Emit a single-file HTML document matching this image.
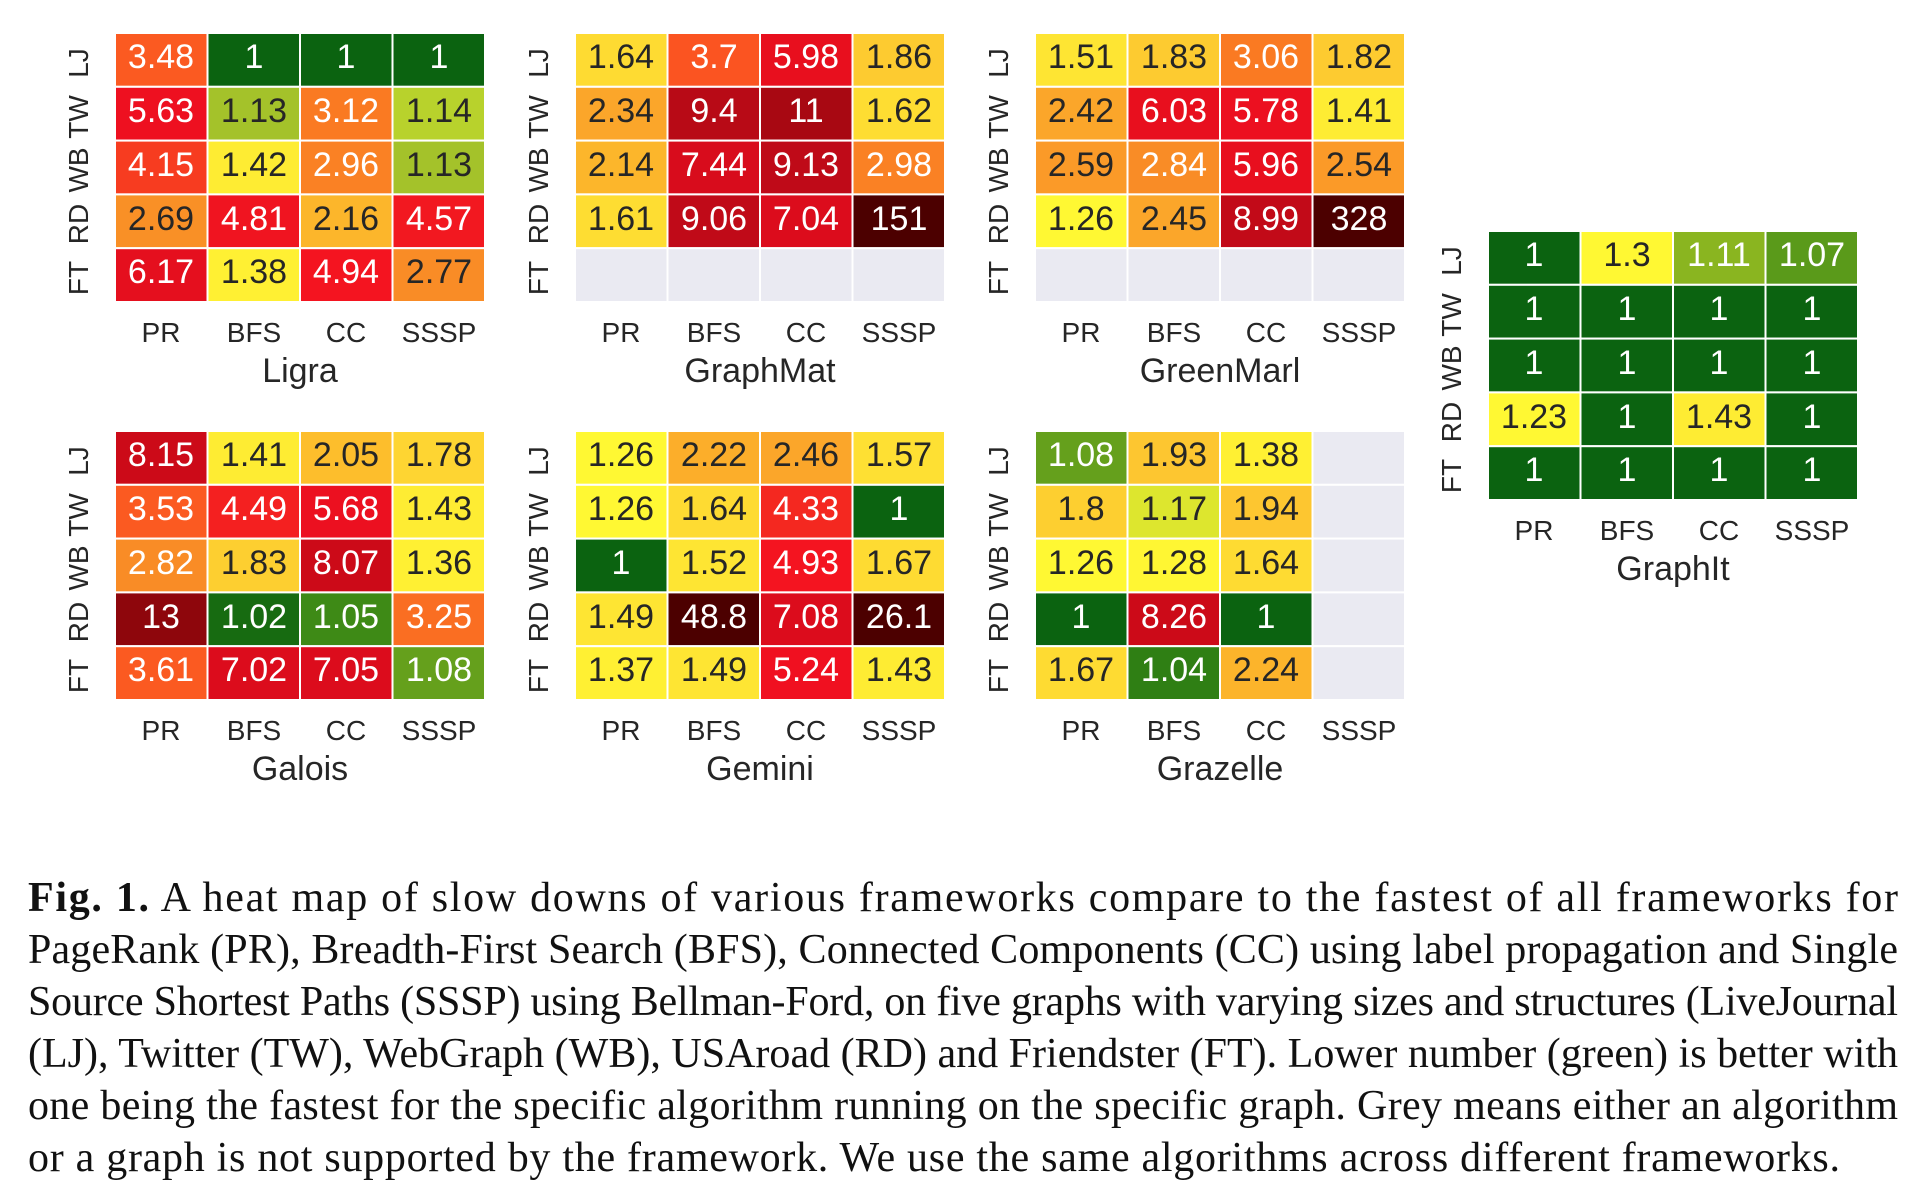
<!DOCTYPE html>
<html><head><meta charset="utf-8"><style>
html,body{margin:0;padding:0;background:#fff;}
svg{display:block;}
.c text{font-family:"Liberation Sans",Arial,sans-serif;font-size:34px;text-anchor:middle;}
.w{fill:#fff}.k{fill:#262626}
.lab{font-family:"Liberation Sans",Arial,sans-serif;font-size:28px;fill:#262626;text-anchor:middle;}
.ttl{font-family:"Liberation Sans",Arial,sans-serif;font-size:29px;fill:#262626;text-anchor:middle;}
rect{stroke:#fff;stroke-width:2;}
.cap{font-family:"Liberation Serif",serif;font-size:42px;fill:#111;}
</style></head><body>
<svg width="1912" height="1186" viewBox="0 0 1912 1186" xmlns="http://www.w3.org/2000/svg">
<defs>
<g id="axes">
<text class="lab" transform="translate(-27,30) rotate(-90)">LJ</text>
<text class="lab" transform="translate(-27,84) rotate(-90)">TW</text>
<text class="lab" transform="translate(-27,137) rotate(-90)">WB</text>
<text class="lab" transform="translate(-27,191) rotate(-90)">RD</text>
<text class="lab" transform="translate(-27,245) rotate(-90)">FT</text>
<text class="lab" x="46" y="309">PR</text>
<text class="lab" x="139" y="309">BFS</text>
<text class="lab" x="231" y="309">CC</text>
<text class="lab" x="324" y="309">SSSP</text>
</g>
</defs>

<!-- Ligra -->
<g class="c" transform="translate(115,33)">
<use href="#axes"/><text class="ttl" x="185" y="349">Ligra</text>
<rect x="0" y="0" width="92.5" height="53.8" fill="#fb5a21"/><text class="w" x="46" y="35">3.48</text>
<rect x="92.5" y="0" width="92.5" height="53.8" fill="#0b6310"/><text class="w" x="139" y="35">1</text>
<rect x="185" y="0" width="92.5" height="53.8" fill="#0b6310"/><text class="w" x="231" y="35">1</text>
<rect x="277.5" y="0" width="92.5" height="53.8" fill="#0b6310"/><text class="w" x="324" y="35">1</text>
<rect x="0" y="53.8" width="92.5" height="53.8" fill="#ee1020"/><text class="w" x="46" y="89">5.63</text>
<rect x="92.5" y="53.8" width="92.5" height="53.8" fill="#a4c22a"/><text class="k" x="139" y="89">1.13</text>
<rect x="185" y="53.8" width="92.5" height="53.8" fill="#fa7a22"/><text class="w" x="231" y="89">3.12</text>
<rect x="277.5" y="53.8" width="92.5" height="53.8" fill="#b8d22c"/><text class="k" x="324" y="89">1.14</text>
<rect x="0" y="107.6" width="92.5" height="53.8" fill="#f73c20"/><text class="w" x="46" y="143">4.15</text>
<rect x="92.5" y="107.6" width="92.5" height="53.8" fill="#feec33"/><text class="k" x="139" y="143">1.42</text>
<rect x="185" y="107.6" width="92.5" height="53.8" fill="#fa8124"/><text class="w" x="231" y="143">2.96</text>
<rect x="277.5" y="107.6" width="92.5" height="53.8" fill="#a4c22a"/><text class="k" x="324" y="143">1.13</text>
<rect x="0" y="161.4" width="92.5" height="53.8" fill="#f99026"/><text class="k" x="46" y="197">2.69</text>
<rect x="92.5" y="161.4" width="92.5" height="53.8" fill="#f01420"/><text class="w" x="139" y="197">4.81</text>
<rect x="185" y="161.4" width="92.5" height="53.8" fill="#fcb62b"/><text class="k" x="231" y="197">2.16</text>
<rect x="277.5" y="161.4" width="92.5" height="53.8" fill="#f21820"/><text class="w" x="324" y="197">4.57</text>
<rect x="0" y="215.2" width="92.5" height="53.8" fill="#e50f1e"/><text class="w" x="46" y="250">6.17</text>
<rect x="92.5" y="215.2" width="92.5" height="53.8" fill="#fff033"/><text class="k" x="139" y="250">1.38</text>
<rect x="185" y="215.2" width="92.5" height="53.8" fill="#f41420"/><text class="w" x="231" y="250">4.94</text>
<rect x="277.5" y="215.2" width="92.5" height="53.8" fill="#f98c26"/><text class="k" x="324" y="250">2.77</text>
</g>

<!-- GraphMat -->
<g class="c" transform="translate(575,33)">
<use href="#axes"/><text class="ttl" x="185" y="349">GraphMat</text>
<rect x="0" y="0" width="92.5" height="53.8" fill="#fedb32"/><text class="k" x="46" y="35">1.64</text>
<rect x="92.5" y="0" width="92.5" height="53.8" fill="#fb5421"/><text class="w" x="139" y="35">3.7</text>
<rect x="185" y="0" width="92.5" height="53.8" fill="#e80f1e"/><text class="w" x="231" y="35">5.98</text>
<rect x="277.5" y="0" width="92.5" height="53.8" fill="#fdcb30"/><text class="k" x="324" y="35">1.86</text>
<rect x="0" y="53.8" width="92.5" height="53.8" fill="#fba62a"/><text class="k" x="46" y="89">2.34</text>
<rect x="92.5" y="53.8" width="92.5" height="53.8" fill="#b80a16"/><text class="w" x="139" y="89">9.4</text>
<rect x="185" y="53.8" width="92.5" height="53.8" fill="#a80812"/><text class="w" x="231" y="89">11</text>
<rect x="277.5" y="53.8" width="92.5" height="53.8" fill="#fedd32"/><text class="k" x="324" y="89">1.62</text>
<rect x="0" y="107.6" width="92.5" height="53.8" fill="#fcb62b"/><text class="k" x="46" y="143">2.14</text>
<rect x="92.5" y="107.6" width="92.5" height="53.8" fill="#d80c1c"/><text class="w" x="139" y="143">7.44</text>
<rect x="185" y="107.6" width="92.5" height="53.8" fill="#bf0a18"/><text class="w" x="231" y="143">9.13</text>
<rect x="277.5" y="107.6" width="92.5" height="53.8" fill="#fa8124"/><text class="w" x="324" y="143">2.98</text>
<rect x="0" y="161.4" width="92.5" height="53.8" fill="#fedd32"/><text class="k" x="46" y="197">1.61</text>
<rect x="92.5" y="161.4" width="92.5" height="53.8" fill="#c00a18"/><text class="w" x="139" y="197">9.06</text>
<rect x="185" y="161.4" width="92.5" height="53.8" fill="#dc0c1c"/><text class="w" x="231" y="197">7.04</text>
<rect x="277.5" y="161.4" width="92.5" height="53.8" fill="#4c0000"/><text class="w" x="324" y="197">151</text>
<rect x="0" y="215.2" width="92.5" height="53.8" fill="#eaeaf2"/>
<rect x="92.5" y="215.2" width="92.5" height="53.8" fill="#eaeaf2"/>
<rect x="185" y="215.2" width="92.5" height="53.8" fill="#eaeaf2"/>
<rect x="277.5" y="215.2" width="92.5" height="53.8" fill="#eaeaf2"/>
</g>

<!-- GreenMarl -->
<g class="c" transform="translate(1035,33)">
<use href="#axes"/><text class="ttl" x="185" y="349">GreenMarl</text>
<rect x="0" y="0" width="92.5" height="53.8" fill="#fee533"/><text class="k" x="46" y="35">1.51</text>
<rect x="92.5" y="0" width="92.5" height="53.8" fill="#fdcb30"/><text class="k" x="139" y="35">1.83</text>
<rect x="185" y="0" width="92.5" height="53.8" fill="#fa7a22"/><text class="w" x="231" y="35">3.06</text>
<rect x="277.5" y="0" width="92.5" height="53.8" fill="#fdcb30"/><text class="k" x="324" y="35">1.82</text>
<rect x="0" y="53.8" width="92.5" height="53.8" fill="#fba62a"/><text class="k" x="46" y="89">2.42</text>
<rect x="92.5" y="53.8" width="92.5" height="53.8" fill="#e80f1e"/><text class="w" x="139" y="89">6.03</text>
<rect x="185" y="53.8" width="92.5" height="53.8" fill="#ec1020"/><text class="w" x="231" y="89">5.78</text>
<rect x="277.5" y="53.8" width="92.5" height="53.8" fill="#feec33"/><text class="k" x="324" y="89">1.41</text>
<rect x="0" y="107.6" width="92.5" height="53.8" fill="#fb9a28"/><text class="k" x="46" y="143">2.59</text>
<rect x="92.5" y="107.6" width="92.5" height="53.8" fill="#f98c26"/><text class="w" x="139" y="143">2.84</text>
<rect x="185" y="107.6" width="92.5" height="53.8" fill="#e80f1e"/><text class="w" x="231" y="143">5.96</text>
<rect x="277.5" y="107.6" width="92.5" height="53.8" fill="#fb9a28"/><text class="k" x="324" y="143">2.54</text>
<rect x="0" y="161.4" width="92.5" height="53.8" fill="#fff833"/><text class="k" x="46" y="197">1.26</text>
<rect x="92.5" y="161.4" width="92.5" height="53.8" fill="#fba62a"/><text class="k" x="139" y="197">2.45</text>
<rect x="185" y="161.4" width="92.5" height="53.8" fill="#c20a18"/><text class="w" x="231" y="197">8.99</text>
<rect x="277.5" y="161.4" width="92.5" height="53.8" fill="#4c0000"/><text class="w" x="324" y="197">328</text>
<rect x="0" y="215.2" width="92.5" height="53.8" fill="#eaeaf2"/>
<rect x="92.5" y="215.2" width="92.5" height="53.8" fill="#eaeaf2"/>
<rect x="185" y="215.2" width="92.5" height="53.8" fill="#eaeaf2"/>
<rect x="277.5" y="215.2" width="92.5" height="53.8" fill="#eaeaf2"/>
</g>

<!-- GraphIt -->
<g class="c" transform="translate(1488,231)">
<use href="#axes"/><text class="ttl" x="185" y="349">GraphIt</text>
<rect x="0" y="0" width="92.5" height="53.8" fill="#0b6310"/><text class="w" x="46" y="35">1</text>
<rect x="92.5" y="0" width="92.5" height="53.8" fill="#fff833"/><text class="k" x="139" y="35">1.3</text>
<rect x="185" y="0" width="92.5" height="53.8" fill="#8ab520"/><text class="w" x="231" y="35">1.11</text>
<rect x="277.5" y="0" width="92.5" height="53.8" fill="#5a9a1a"/><text class="w" x="324" y="35">1.07</text>
<rect x="0" y="53.8" width="92.5" height="53.8" fill="#0b6310"/><text class="w" x="46" y="89">1</text>
<rect x="92.5" y="53.8" width="92.5" height="53.8" fill="#0b6310"/><text class="w" x="139" y="89">1</text>
<rect x="185" y="53.8" width="92.5" height="53.8" fill="#0b6310"/><text class="w" x="231" y="89">1</text>
<rect x="277.5" y="53.8" width="92.5" height="53.8" fill="#0b6310"/><text class="w" x="324" y="89">1</text>
<rect x="0" y="107.6" width="92.5" height="53.8" fill="#0b6310"/><text class="w" x="46" y="143">1</text>
<rect x="92.5" y="107.6" width="92.5" height="53.8" fill="#0b6310"/><text class="w" x="139" y="143">1</text>
<rect x="185" y="107.6" width="92.5" height="53.8" fill="#0b6310"/><text class="w" x="231" y="143">1</text>
<rect x="277.5" y="107.6" width="92.5" height="53.8" fill="#0b6310"/><text class="w" x="324" y="143">1</text>
<rect x="0" y="161.4" width="92.5" height="53.8" fill="#fff833"/><text class="k" x="46" y="197">1.23</text>
<rect x="92.5" y="161.4" width="92.5" height="53.8" fill="#0b6310"/><text class="w" x="139" y="197">1</text>
<rect x="185" y="161.4" width="92.5" height="53.8" fill="#feec33"/><text class="k" x="231" y="197">1.43</text>
<rect x="277.5" y="161.4" width="92.5" height="53.8" fill="#0b6310"/><text class="w" x="324" y="197">1</text>
<rect x="0" y="215.2" width="92.5" height="53.8" fill="#0b6310"/><text class="w" x="46" y="250">1</text>
<rect x="92.5" y="215.2" width="92.5" height="53.8" fill="#0b6310"/><text class="w" x="139" y="250">1</text>
<rect x="185" y="215.2" width="92.5" height="53.8" fill="#0b6310"/><text class="w" x="231" y="250">1</text>
<rect x="277.5" y="215.2" width="92.5" height="53.8" fill="#0b6310"/><text class="w" x="324" y="250">1</text>
</g>

<!-- Galois -->
<g class="c" transform="translate(115,431)">
<use href="#axes"/><text class="ttl" x="185" y="349">Galois</text>
<rect x="0" y="0" width="92.5" height="53.8" fill="#cc0a18"/><text class="w" x="46" y="35">8.15</text>
<rect x="92.5" y="0" width="92.5" height="53.8" fill="#feec33"/><text class="k" x="139" y="35">1.41</text>
<rect x="185" y="0" width="92.5" height="53.8" fill="#fdbe2c"/><text class="k" x="231" y="35">2.05</text>
<rect x="277.5" y="0" width="92.5" height="53.8" fill="#fed532"/><text class="k" x="324" y="35">1.78</text>
<rect x="0" y="53.8" width="92.5" height="53.8" fill="#fb5a21"/><text class="w" x="46" y="89">3.53</text>
<rect x="92.5" y="53.8" width="92.5" height="53.8" fill="#f42020"/><text class="w" x="139" y="89">4.49</text>
<rect x="185" y="53.8" width="92.5" height="53.8" fill="#ec1020"/><text class="w" x="231" y="89">5.68</text>
<rect x="277.5" y="53.8" width="92.5" height="53.8" fill="#feec33"/><text class="k" x="324" y="89">1.43</text>
<rect x="0" y="107.6" width="92.5" height="53.8" fill="#f98c26"/><text class="w" x="46" y="143">2.82</text>
<rect x="92.5" y="107.6" width="92.5" height="53.8" fill="#fdcf30"/><text class="k" x="139" y="143">1.83</text>
<rect x="185" y="107.6" width="92.5" height="53.8" fill="#cc0a18"/><text class="w" x="231" y="143">8.07</text>
<rect x="277.5" y="107.6" width="92.5" height="53.8" fill="#fff033"/><text class="k" x="324" y="143">1.36</text>
<rect x="0" y="161.4" width="92.5" height="53.8" fill="#8e060c"/><text class="w" x="46" y="197">13</text>
<rect x="92.5" y="161.4" width="92.5" height="53.8" fill="#176b11"/><text class="w" x="139" y="197">1.02</text>
<rect x="185" y="161.4" width="92.5" height="53.8" fill="#3e8a16"/><text class="w" x="231" y="197">1.05</text>
<rect x="277.5" y="161.4" width="92.5" height="53.8" fill="#fa6e22"/><text class="w" x="324" y="197">3.25</text>
<rect x="0" y="215.2" width="92.5" height="53.8" fill="#fb5a21"/><text class="w" x="46" y="250">3.61</text>
<rect x="92.5" y="215.2" width="92.5" height="53.8" fill="#dc0c1c"/><text class="w" x="139" y="250">7.02</text>
<rect x="185" y="215.2" width="92.5" height="53.8" fill="#dc0c1c"/><text class="w" x="231" y="250">7.05</text>
<rect x="277.5" y="215.2" width="92.5" height="53.8" fill="#65a01c"/><text class="w" x="324" y="250">1.08</text>
</g>

<!-- Gemini -->
<g class="c" transform="translate(575,431)">
<use href="#axes"/><text class="ttl" x="185" y="349">Gemini</text>
<rect x="0" y="0" width="92.5" height="53.8" fill="#fff833"/><text class="k" x="46" y="35">1.26</text>
<rect x="92.5" y="0" width="92.5" height="53.8" fill="#fcae2a"/><text class="k" x="139" y="35">2.22</text>
<rect x="185" y="0" width="92.5" height="53.8" fill="#fba62a"/><text class="k" x="231" y="35">2.46</text>
<rect x="277.5" y="0" width="92.5" height="53.8" fill="#fee033"/><text class="k" x="324" y="35">1.57</text>
<rect x="0" y="53.8" width="92.5" height="53.8" fill="#fff833"/><text class="k" x="46" y="89">1.26</text>
<rect x="92.5" y="53.8" width="92.5" height="53.8" fill="#fedb32"/><text class="k" x="139" y="89">1.64</text>
<rect x="185" y="53.8" width="92.5" height="53.8" fill="#f42820"/><text class="w" x="231" y="89">4.33</text>
<rect x="277.5" y="53.8" width="92.5" height="53.8" fill="#0b6310"/><text class="w" x="324" y="89">1</text>
<rect x="0" y="107.6" width="92.5" height="53.8" fill="#0b6310"/><text class="w" x="46" y="143">1</text>
<rect x="92.5" y="107.6" width="92.5" height="53.8" fill="#fee533"/><text class="k" x="139" y="143">1.52</text>
<rect x="185" y="107.6" width="92.5" height="53.8" fill="#f41420"/><text class="w" x="231" y="143">4.93</text>
<rect x="277.5" y="107.6" width="92.5" height="53.8" fill="#fedb32"/><text class="k" x="324" y="143">1.67</text>
<rect x="0" y="161.4" width="92.5" height="53.8" fill="#fee533"/><text class="k" x="46" y="197">1.49</text>
<rect x="92.5" y="161.4" width="92.5" height="53.8" fill="#4c0000"/><text class="w" x="139" y="197">48.8</text>
<rect x="185" y="161.4" width="92.5" height="53.8" fill="#dc0c1c"/><text class="w" x="231" y="197">7.08</text>
<rect x="277.5" y="161.4" width="92.5" height="53.8" fill="#4c0000"/><text class="w" x="324" y="197">26.1</text>
<rect x="0" y="215.2" width="92.5" height="53.8" fill="#fff033"/><text class="k" x="46" y="250">1.37</text>
<rect x="92.5" y="215.2" width="92.5" height="53.8" fill="#fee533"/><text class="k" x="139" y="250">1.49</text>
<rect x="185" y="215.2" width="92.5" height="53.8" fill="#f01020"/><text class="w" x="231" y="250">5.24</text>
<rect x="277.5" y="215.2" width="92.5" height="53.8" fill="#feec33"/><text class="k" x="324" y="250">1.43</text>
</g>

<!-- Grazelle -->
<g class="c" transform="translate(1035,431)">
<use href="#axes"/><text class="ttl" x="185" y="349">Grazelle</text>
<rect x="0" y="0" width="92.5" height="53.8" fill="#65a01c"/><text class="w" x="46" y="35">1.08</text>
<rect x="92.5" y="0" width="92.5" height="53.8" fill="#fdc630"/><text class="k" x="139" y="35">1.93</text>
<rect x="185" y="0" width="92.5" height="53.8" fill="#fff033"/><text class="k" x="231" y="35">1.38</text>
<rect x="277.5" y="0" width="92.5" height="53.8" fill="#eaeaf2"/>
<rect x="0" y="53.8" width="92.5" height="53.8" fill="#fdcf30"/><text class="k" x="46" y="89">1.8</text>
<rect x="92.5" y="53.8" width="92.5" height="53.8" fill="#dde62e"/><text class="k" x="139" y="89">1.17</text>
<rect x="185" y="53.8" width="92.5" height="53.8" fill="#fdc630"/><text class="k" x="231" y="89">1.94</text>
<rect x="277.5" y="53.8" width="92.5" height="53.8" fill="#eaeaf2"/>
<rect x="0" y="107.6" width="92.5" height="53.8" fill="#fff833"/><text class="k" x="46" y="143">1.26</text>
<rect x="92.5" y="107.6" width="92.5" height="53.8" fill="#fff633"/><text class="k" x="139" y="143">1.28</text>
<rect x="185" y="107.6" width="92.5" height="53.8" fill="#fedb32"/><text class="k" x="231" y="143">1.64</text>
<rect x="277.5" y="107.6" width="92.5" height="53.8" fill="#eaeaf2"/>
<rect x="0" y="161.4" width="92.5" height="53.8" fill="#0b6310"/><text class="w" x="46" y="197">1</text>
<rect x="92.5" y="161.4" width="92.5" height="53.8" fill="#cc0a18"/><text class="w" x="139" y="197">8.26</text>
<rect x="185" y="161.4" width="92.5" height="53.8" fill="#0b6310"/><text class="w" x="231" y="197">1</text>
<rect x="277.5" y="161.4" width="92.5" height="53.8" fill="#eaeaf2"/>
<rect x="0" y="215.2" width="92.5" height="53.8" fill="#fedb32"/><text class="k" x="46" y="250">1.67</text>
<rect x="92.5" y="215.2" width="92.5" height="53.8" fill="#2f7f14"/><text class="w" x="139" y="250">1.04</text>
<rect x="185" y="215.2" width="92.5" height="53.8" fill="#fcb42b"/><text class="k" x="231" y="250">2.24</text>
<rect x="277.5" y="215.2" width="92.5" height="53.8" fill="#eaeaf2"/>
</g>

<!-- Caption -->
<text class="cap" x="28" y="911" textLength="1870" lengthAdjust="spacing"><tspan font-weight="bold">Fig. 1.</tspan> A heat map of slow downs of various frameworks compare to the fastest of all frameworks for</text>
<text class="cap" x="28" y="963" textLength="1870" lengthAdjust="spacing">PageRank (PR), Breadth-First Search (BFS), Connected Components (CC) using label propagation and Single</text>
<text class="cap" x="28" y="1015" textLength="1870" lengthAdjust="spacing">Source Shortest Paths (SSSP) using Bellman-Ford, on five graphs with varying sizes and structures (LiveJournal</text>
<text class="cap" x="28" y="1067" textLength="1870" lengthAdjust="spacing">(LJ), Twitter (TW), WebGraph (WB), USAroad (RD) and Friendster (FT). Lower number (green) is better with</text>
<text class="cap" x="28" y="1119" textLength="1870" lengthAdjust="spacing">one being the fastest for the specific algorithm running on the specific graph. Grey means either an algorithm</text>
<text class="cap" x="28" y="1171" textLength="1812" lengthAdjust="spacing">or a graph is not supported by the framework. We use the same algorithms across different frameworks.</text>
</svg>
</body></html>
